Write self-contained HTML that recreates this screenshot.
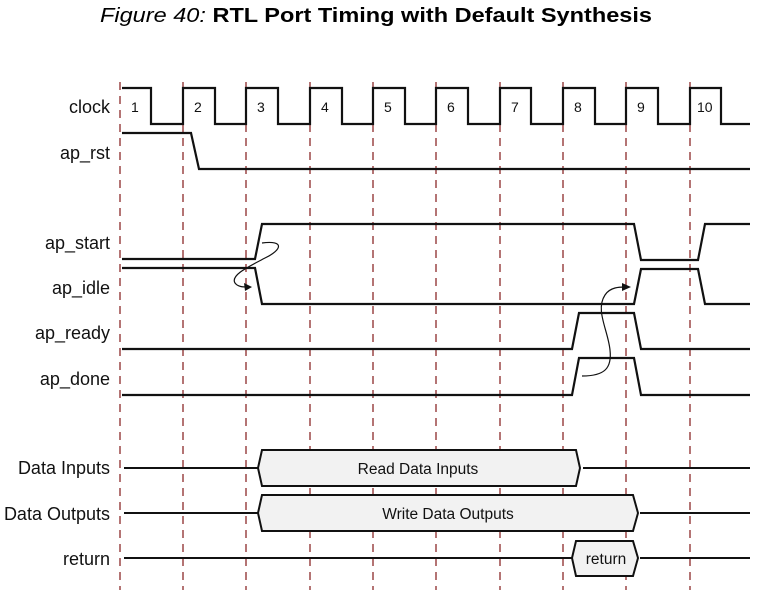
<!DOCTYPE html>
<html><head><meta charset="utf-8"><style>
html,body{margin:0;padding:0;background:#fff;}
svg{display:block;}
</style></head><body>
<svg width="774" height="600" viewBox="0 0 774 600" xmlns="http://www.w3.org/2000/svg" font-family="Liberation Sans, sans-serif">
<text x="100" y="22" font-size="20" textLength="552" lengthAdjust="spacingAndGlyphs"><tspan font-style="italic">Figure 40:</tspan> <tspan font-weight="bold">RTL Port Timing with Default Synthesis</tspan></text>
<g stroke="#8b2a2a" stroke-width="1.3" stroke-dasharray="8,6">
<line x1="120" y1="82" x2="120" y2="590"/><line x1="183" y1="82" x2="183" y2="590"/>
<line x1="246" y1="82" x2="246" y2="590"/><line x1="310" y1="82" x2="310" y2="590"/>
<line x1="373" y1="82" x2="373" y2="590"/><line x1="436" y1="82" x2="436" y2="590"/>
<line x1="500" y1="82" x2="500" y2="590"/><line x1="563" y1="82" x2="563" y2="590"/>
<line x1="626" y1="82" x2="626" y2="590"/><line x1="690" y1="82" x2="690" y2="590"/>
</g>
<g fill="none" stroke="#111" stroke-width="2.2">
<path d="M122 88H151V124H183V88H215V124H246V88H278V124H310V88H342V124H373V88H405V124H436V88H468V124H500V88H531V124H563V88H595V124H626V88H658V124H690V88H721V124H750"/>
<path d="M122 133H191L199 169H750"/>
<path d="M122 259H255L262 224H634L641 260H698L705 224H750"/>
<path d="M122 268H255L262 304H634L641 269H698L705 304H750"/>
<path d="M122 349H572L579 313H634L641 349H750"/>
<path d="M122 395H572L579 358H634L641 395H750"/>
</g>
<g stroke="#111" stroke-width="2" fill="#f2f2f2">
<line x1="124" y1="468" x2="258" y2="468"/><line x1="583" y1="468" x2="750" y2="468"/>
<path d="M258 468L262 450H576L580 468L576 486H262Z"/>
<line x1="124" y1="513" x2="258" y2="513"/><line x1="640" y1="513" x2="750" y2="513"/>
<path d="M258 513L262 495H633L638 513L633 531H262Z"/>
<line x1="124" y1="558" x2="572" y2="558"/><line x1="640" y1="558" x2="750" y2="558"/>
<path d="M572 558L576 541H633L638 558L633 576H576Z"/>
</g>
<g fill="none" stroke="#111" stroke-width="1.2">
<path d="M262 243C285 240 282 250 265 258C250 266 230 275 235 283C238 287 243 287 248 287"/>
<path d="M582 376C605 376 612 368 610 350C608 330 595 310 605 295C610 287 620 287 625 287"/>
</g>
<path d="M252 287L244 283L245 291Z" fill="#111"/>
<path d="M631 287L622 283L622 291Z" fill="#111"/>
<g font-size="18" fill="#111" text-anchor="end">
<text x="110" y="113">clock</text>
<text x="110" y="159">ap_rst</text>
<text x="110" y="249">ap_start</text>
<text x="110" y="294">ap_idle</text>
<text x="110" y="339">ap_ready</text>
<text x="110" y="385">ap_done</text>
<text x="110" y="474">Data Inputs</text>
<text x="110" y="520">Data Outputs</text>
<text x="110" y="565">return</text>
</g>
<g font-size="14" fill="#111">
<text x="131" y="112">1</text><text x="194" y="112">2</text><text x="257" y="112">3</text>
<text x="321" y="112">4</text><text x="384" y="112">5</text><text x="447" y="112">6</text>
<text x="511" y="112">7</text><text x="574" y="112">8</text><text x="637" y="112">9</text>
<text x="697" y="112">10</text>
</g>
<g font-size="15.5" fill="#111" text-anchor="middle">
<text x="418" y="474">Read Data Inputs</text>
<text x="448" y="519">Write Data Outputs</text>
<text x="606" y="564">return</text>
</g>
</svg>
</body></html>
